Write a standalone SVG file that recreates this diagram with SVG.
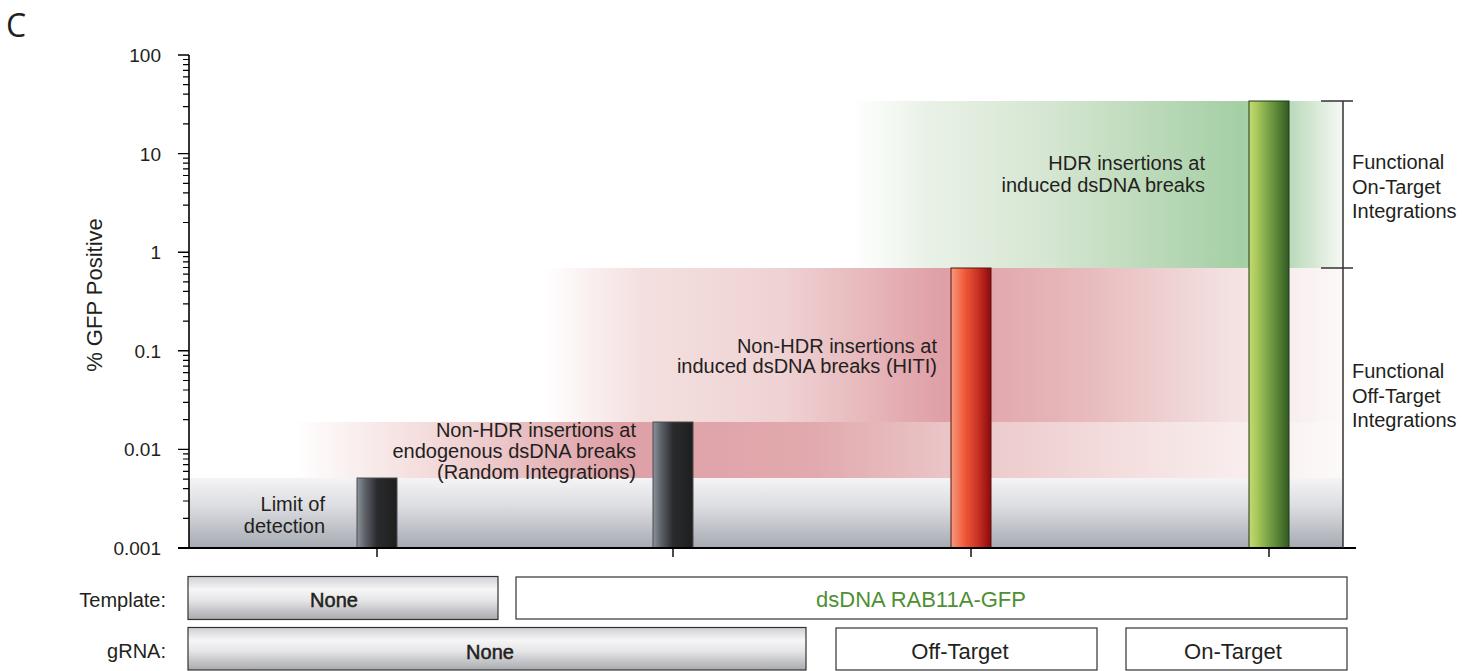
<svg xmlns="http://www.w3.org/2000/svg" width="1462" height="671" viewBox="0 0 1462 671">
<style>
text{font-family:"Liberation Sans",Arial,sans-serif;fill:#231f20}
.t{font-size:20px}
.b{font-size:22px}
.tk{font-size:19px;text-anchor:end}
.r{text-anchor:end}
.m{text-anchor:middle}
.ax{stroke:#000;fill:none}
.box{stroke:#333;stroke-width:1.2}
</style>
<defs>
<linearGradient id="gGrey" x1="0" y1="478" x2="0" y2="548" gradientUnits="userSpaceOnUse">
<stop offset="0" stop-color="#f4f4f6"/>
<stop offset="0.4" stop-color="#dcdde1"/>
<stop offset="1" stop-color="#a6aab2"/>
</linearGradient>
<linearGradient id="gPink1" x1="295" y1="0" x2="1340" y2="0" gradientUnits="userSpaceOnUse">
<stop offset="0" stop-color="#f3d8d8" stop-opacity="0"/>
<stop offset="0.12" stop-color="#f3dada" stop-opacity="0.9"/>
<stop offset="0.31" stop-color="#dea0a6"/>
<stop offset="0.5" stop-color="#e2aaae"/>
<stop offset="0.62" stop-color="#eac4c6"/>
<stop offset="0.82" stop-color="#f5e2e2"/>
<stop offset="1" stop-color="#fdf9f9"/>
</linearGradient>
<linearGradient id="gPink2" x1="545" y1="0" x2="1340" y2="0" gradientUnits="userSpaceOnUse">
<stop offset="0" stop-color="#f3d8d8" stop-opacity="0"/>
<stop offset="0.12" stop-color="#f2dada" stop-opacity="0.85"/>
<stop offset="0.3" stop-color="#efd2d3"/>
<stop offset="0.5" stop-color="#df9fa6"/>
<stop offset="0.68" stop-color="#e8babd"/>
<stop offset="0.85" stop-color="#f3dfdf"/>
<stop offset="1" stop-color="#fcf8f8"/>
</linearGradient>
<linearGradient id="gGreen" x1="850" y1="0" x2="1340" y2="0" gradientUnits="userSpaceOnUse">
<stop offset="0" stop-color="#eef5ec" stop-opacity="0"/>
<stop offset="0.15" stop-color="#eaf2e8"/>
<stop offset="0.4" stop-color="#d6e6d2"/>
<stop offset="0.8" stop-color="#a4cfa4"/>
<stop offset="0.9" stop-color="#bcdabc"/>
<stop offset="1" stop-color="#f3f7f2"/>
</linearGradient>
<linearGradient id="gBlack" x1="0" y1="0" x2="1" y2="0">
<stop offset="0" stop-color="#8c939a"/>
<stop offset="0.2" stop-color="#5d6268"/>
<stop offset="0.5" stop-color="#2a2b2d"/>
<stop offset="1" stop-color="#1e1e1e"/>
</linearGradient>
<linearGradient id="gRed" x1="0" y1="0" x2="1" y2="0">
<stop offset="0" stop-color="#f59a7c"/>
<stop offset="0.35" stop-color="#f05838"/>
<stop offset="0.7" stop-color="#c42e22"/>
<stop offset="1" stop-color="#8c0a0c"/>
</linearGradient>
<linearGradient id="gGreenBar" x1="0" y1="0" x2="1" y2="0">
<stop offset="0" stop-color="#c4da72"/>
<stop offset="0.2" stop-color="#a8c85c"/>
<stop offset="0.55" stop-color="#6f9a42"/>
<stop offset="1" stop-color="#335a22"/>
</linearGradient>
<linearGradient id="gNone" x1="0" y1="0" x2="0" y2="1">
<stop offset="0" stop-color="#cfd0d4"/>
<stop offset="0.3" stop-color="#f6f6f7"/>
<stop offset="0.55" stop-color="#e6e6e8"/>
<stop offset="1" stop-color="#a9aaaf"/>
</linearGradient>
</defs>

<text x="6" y="37" style="font-family:'Open Sans','Liberation Sans',sans-serif;font-size:32px;font-weight:400">C</text>

<g id="bands">
<rect x="189" y="478" width="1154" height="70" fill="url(#gGrey)"/>
<rect x="295" y="422" width="1048" height="56" fill="url(#gPink1)"/>
<rect x="545" y="268" width="798" height="154" fill="url(#gPink2)"/>
<rect x="850" y="101" width="493" height="167" fill="url(#gGreen)"/>
</g>

<g id="axis">
<path class="ax" stroke-width="1.6" d="M189 55V548"/>
<path class="ax" stroke-width="1.4" d="M178 548H189M178 449.4H189M178 350.8H189M178 252.2H189M178 153.6H189M178 55H189"/>
<path class="ax" stroke-width="1.2" d="M183 518.3H189M183 501H189M183 488.6H189M183 479.1H189M183 471.3H189M183 464.7H189M183 459H189M183 453.9H189
M183 419.7H189M183 402.4H189M183 390H189M183 380.5H189M183 372.7H189M183 366.1H189M183 360.4H189M183 355.3H189
M183 321.1H189M183 303.8H189M183 291.4H189M183 281.9H189M183 274.1H189M183 267.5H189M183 261.8H189M183 256.7H189
M183 222.5H189M183 205.2H189M183 192.8H189M183 183.3H189M183 175.5H189M183 168.9H189M183 163.2H189M183 158.1H189
M183 123.9H189M183 106.6H189M183 94.2H189M183 84.7H189M183 76.9H189M183 70.3H189M183 64.6H189M183 59.5H189"/>
<text class="tk" x="161" y="62">100</text>
<text class="tk" x="161" y="160.6">10</text>
<text class="tk" x="161" y="259.2">1</text>
<text class="tk" x="161" y="357.8">0.1</text>
<text class="tk" x="161" y="456.4">0.01</text>
<text class="tk" x="161" y="555">0.001</text>
<text class="b m" transform="translate(102 295) rotate(-90)">% GFP Positive</text>
</g>

<g id="bars">
<rect x="357" y="478" width="40" height="70" fill="url(#gBlack)" stroke="#4a4c50" stroke-width="1"/>
<rect x="653" y="422" width="40" height="126" fill="url(#gBlack)" stroke="#4a4c50" stroke-width="1"/>
<rect x="951" y="268" width="40" height="280" fill="url(#gRed)" stroke="#5a1410" stroke-width="1"/>
<rect x="1249" y="101" width="40" height="447" fill="url(#gGreenBar)" stroke="#1d3a1a" stroke-width="1"/>
</g>

<g id="xaxis">
<path class="ax" stroke-width="2" d="M178 548H1356"/>
<path class="ax" stroke-width="1.4" d="M377 548V557M673 548V557M971 548V557M1269 548V557"/>
</g>

<g id="bracket">
<path fill="none" stroke="#333" stroke-width="1.5" d="M1343 101V548M1321 101H1353M1321 268H1353"/>
</g>

<g id="labels">
<text class="t r" x="325" y="511">Limit of</text>
<text class="t r" x="325" y="533">detection</text>
<text class="t r" x="636" y="437">Non-HDR insertions at</text>
<text class="t r" x="636" y="458">endogenous dsDNA breaks</text>
<text class="t r" x="636" y="479">(Random Integrations)</text>
<text class="t r" x="937" y="353">Non-HDR insertions at</text>
<text class="t r" x="937" y="373">induced dsDNA breaks (HITI)</text>
<text class="t r" x="1205" y="170">HDR insertions at</text>
<text class="t r" x="1205" y="192">induced dsDNA breaks</text>
<text class="t" x="1352" y="169">Functional</text>
<text class="t" x="1352" y="194">On-Target</text>
<text class="t" x="1352" y="218">Integrations</text>
<text class="t" x="1352" y="378">Functional</text>
<text class="t" x="1352" y="403">Off-Target</text>
<text class="t" x="1352" y="427">Integrations</text>
</g>

<g id="template-row">
<text class="t r" x="166" y="607">Template:</text>
<rect class="box" x="188" y="576.5" width="310" height="43" fill="url(#gNone)"/>
<text class="t m" x="334" y="607" style="stroke:#231f20;stroke-width:0.5">None</text>
<rect class="box" x="516" y="577" width="831" height="42" fill="#fff"/>
<text class="b m" x="921" y="607" style="fill:#4e8f34">dsDNA RAB11A-GFP</text>
</g>

<g id="grna-row">
<text class="t r" x="166" y="658">gRNA:</text>
<rect class="box" x="188" y="627.5" width="618" height="42.5" fill="url(#gNone)"/>
<text class="t m" x="490" y="659" style="stroke:#231f20;stroke-width:0.5">None</text>
<rect class="box" x="836" y="628" width="261" height="42" fill="#fff"/>
<text class="b m" x="960" y="659">Off-Target</text>
<rect class="box" x="1126" y="628" width="221" height="42" fill="#fff"/>
<text class="b m" x="1233" y="659">On-Target</text>
</g>
</svg>
